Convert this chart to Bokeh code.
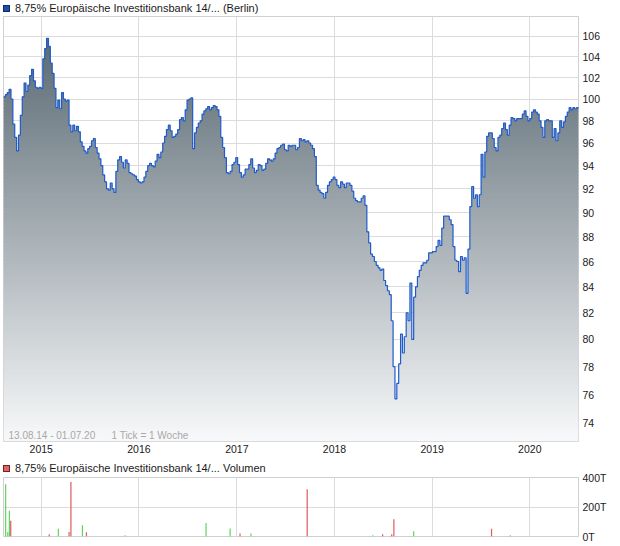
import numpy as np
import pandas as pd
from bokeh.plotting import figure
from bokeh.layouts import column
from bokeh.models import (Range1d, FixedTicker, PrintfTickFormatter, DatetimeTickFormatter,
                          Label, Div)
from bokeh.embed import file_html
from bokeh.resources import INLINE

# ---------------- data ----------------
title_main = "8,75% Europäische Investitionsbank 14/... (Berlin)"
title_vol = "8,75% Europäische Investitionsbank 14/... Volumen"
info_range = "13.08.14 - 01.07.20"
info_tick = "1 Tick = 1 Woche"

start_date = "2014-08-13"   # weekly closes, 1 tick = 1 week
price = [
    100.2, 100.4, 100.6, 100.9, 100.0, 97.7, 96.5, 95.3, 96.7, 98.5,
    100.2, 101.5, 100.7, 101.3, 102.2, 102.8, 101.7, 101.1, 101.0, 101.1,
    101.0, 103.8, 104.8, 105.8, 105.0, 103.4, 102.4, 101.0, 99.2, 99.9,
    99.1, 100.6, 100.0, 99.8, 99.9, 97.6, 97.0, 97.6, 97.1, 97.5,
    97.0, 96.1, 95.7, 95.3, 95.1, 95.5, 95.7, 96.2, 96.4, 95.6,
    95.1, 94.6, 94.0, 93.2, 92.6, 92.0, 91.9, 92.5, 92.0, 91.7,
    93.5, 94.5, 94.8, 94.3, 93.8, 94.5, 94.2, 93.4, 93.3, 93.2,
    93.1, 92.8, 92.6, 92.5, 92.6, 93.0, 93.5, 94.0, 94.2, 94.0,
    93.9, 94.4, 95.0, 94.7, 95.2, 96.0, 96.6, 97.2, 97.6, 97.1,
    96.5, 96.6, 96.8, 97.2, 98.1, 98.3, 98.0, 99.0, 99.9, 100.0,
    100.1, 95.5, 96.9, 97.4, 97.8, 98.0, 98.6, 98.9, 99.1, 99.3,
    99.0, 99.2, 99.4, 99.3, 99.0, 98.4, 96.5, 95.6, 94.7, 93.4,
    93.3, 93.5, 94.1, 94.3, 94.7, 94.1, 93.4, 93.0, 93.2, 93.7,
    93.7, 94.1, 94.6, 93.8, 93.4, 93.6, 94.1, 94.0, 93.6, 93.7,
    94.2, 94.6, 94.5, 94.4, 94.6, 95.1, 95.5, 95.6, 95.8, 95.9,
    95.4, 95.3, 95.8, 95.7, 95.8, 95.8, 95.4, 95.6, 96.4, 96.2,
    96.3, 96.1, 96.2, 96.0, 95.8, 95.5, 94.8, 92.3, 91.9, 91.7,
    91.6, 91.2, 91.7, 92.3, 92.6, 92.8, 93.0, 92.8, 92.3, 92.1,
    92.6, 92.4, 92.1, 92.5, 92.5, 92.3, 91.8, 91.2, 91.0, 90.9,
    90.9, 91.2, 91.4, 90.6, 88.4, 87.5, 86.6, 86.4, 86.0, 85.7,
    85.5, 85.3, 85.4, 84.5, 84.1, 83.7, 83.4, 81.4, 78.0, 75.7,
    76.8, 78.2, 80.4, 79.0, 80.2, 82.0, 81.4, 84.3, 80.0, 83.2,
    84.0, 84.8, 85.3, 85.7, 85.9, 85.9, 86.1, 86.7, 86.7, 86.8,
    86.8, 87.2, 87.7, 87.3, 88.7, 89.7, 89.7, 89.7, 89.4, 89.0,
    87.2, 86.1, 86.0, 85.2, 86.4, 86.1, 86.3, 83.5, 87.0, 90.5,
    92.2, 91.2, 91.5, 90.5, 91.5, 95.0, 93.0, 95.2, 96.6, 96.9,
    96.9, 96.4, 95.6, 95.3, 96.5, 96.7, 97.3, 97.8, 97.2, 96.7,
    97.6, 98.3, 98.2, 98.0, 98.2, 98.2, 98.2, 98.6, 98.9, 98.4,
    98.0, 98.2, 98.8, 99.0, 98.8, 98.6, 98.0, 97.4, 96.5, 98.0,
    98.1, 98.0, 98.0, 96.5, 97.3, 96.2, 96.9, 98.0, 97.4, 97.9,
    98.4, 98.8, 99.2, 99.0, 99.2, 99.1, 99.2, 99.1,
]

vol_dates = ["2014-08-21", "2014-08-29", "2014-09-04", "2014-09-09", "2015-01-31",
             "2015-03-06", "2015-04-15", "2015-04-22", "2015-06-04", "2015-06-19",
             "2015-11-10", "2016-09-08", "2016-12-07", "2017-01-13", "2017-02-23",
             "2017-09-21", "2018-05-24", "2018-06-30", "2018-08-03", "2018-08-11",
             "2018-10-24", "2019-08-11", "2019-10-20"]
vol_values = [355, 31, 174, 106, 16, 52, 31, 370, 77, 29, 9, 92, 54, 20, 20,
              321, 9, 16, 16, 117, 36, 52, 9]          # in thousands (T)
vol_dir = ["up", "up", "up", "down", "down", "up", "down", "down", "up", "down",
           "up", "up", "up", "down", "up", "down", "up", "down", "down", "down",
           "up", "down", "up"]

year_ticks = ["2015-01-01", "2016-01-01", "2017-01-01", "2018-01-01", "2019-01-01", "2020-01-01"]
price_ticks = [74, 76, 78, 80, 82, 84, 86, 88, 90, 92, 94, 96, 98, 100, 102, 104, 106]
vol_ticks = [0, 200, 400]

# ---------------- derived ----------------
dates = pd.date_range(start_date, periods=len(price), freq="7D")
pr = np.array(price, dtype=float)
year_ms = [pd.Timestamp(d).value / 1e6 for d in year_ticks]
x_start = dates[0]
x_end = dates[-1]

FONT = "Liberation Sans"
GRID = "#dcdcdc"
OUTLINE = "#d0d0d0"
LINE_BLUE = "#1f5bcc"
UP = "#5fd35f"
DOWN = "#e05a5a"

ymin, ymax = 72.77, 107.96


def title_div(text, fill, line, box_h, text_h):
    html = (
        '<div style="display:flex;align-items:center;height:%dpx;margin:0;padding:0;'
        "font-family:'Liberation Sans',Arial,sans-serif;font-size:11px;color:#1a1a1a;"
        'white-space:nowrap;">'
        '<span style="display:inline-block;box-sizing:border-box;width:7px;height:7px;'
        'background:%s;border:1px solid %s;margin-left:3px;margin-right:5px;"></span>'
        '%s</div>' % (text_h, fill, line, text)
    )
    return Div(text=html, width=618, height=box_h, margin=0)


p = figure(width=618, height=445, x_axis_type="datetime", y_axis_type="log",
           y_axis_location="right", output_backend="svg", toolbar_location=None,
           x_range=Range1d(x_start, x_end), y_range=Range1d(ymin, ymax),
           min_border_left=3, min_border_right=40, min_border_top=1, min_border_bottom=19)
p.background_fill_color = "white"
p.border_fill_color = "white"
p.outline_line_color = OUTLINE

# gradient area, drawn as stacked horizontal bands
N = 120
edges = np.exp(np.linspace(np.log(ymin), np.log(ymax), N + 1))
top_rgb = np.array([82, 98, 108])
bot_rgb = np.array([248, 249, 250])
for k in range(N):
    lo, hi = edges[k], edges[k + 1]
    if pr.max() <= lo:
        break
    t = (k + 0.5) / N
    c = bot_rgb + (top_rgb - bot_rgb) * t
    col = "#%02x%02x%02x" % tuple(int(round(v)) for v in c)
    y2 = np.clip(pr, lo, hi * 1.0015)
    y1 = np.full_like(pr, lo)
    p.varea_step(x=dates, y1=y1, y2=y2, step_mode="after", fill_color=col)

p.step(x=dates, y=pr, mode="after", line_color=LINE_BLUE, line_width=1.2)

p.xaxis.ticker = FixedTicker(ticks=year_ms)
p.xaxis.formatter = DatetimeTickFormatter(years="%Y", months="%Y", days="%Y", hours="%Y",
                                          minutes="%Y", seconds="%Y", milliseconds="%Y")
p.xgrid.ticker = FixedTicker(ticks=year_ms)
p.yaxis.ticker = FixedTicker(ticks=price_ticks)
p.yaxis.formatter = PrintfTickFormatter(format="%d")
p.ygrid.ticker = FixedTicker(ticks=price_ticks)
for g in (p.xgrid, p.ygrid):
    g.grid_line_color = GRID
    g.grid_line_width = 1
for ax in (p.xaxis, p.yaxis):
    ax.axis_line_color = None
    ax.major_tick_line_color = None
    ax.minor_tick_line_color = None
    ax.major_tick_out = 0
    ax.major_tick_in = 0
    ax.major_label_text_font = FONT
    ax.major_label_text_font_size = "10.5px"
    ax.major_label_text_color = "#1a1a1a"
p.xaxis.major_label_standoff = 3
p.yaxis.major_label_standoff = 4

# info text inside the frame
p.add_layout(Label(x=5, y=6, x_units="screen", y_units="screen", text=info_range,
                   text_font=FONT, text_font_size="10px", text_color="#a8a8a8",
                   text_baseline="middle", text_align="left"))
p.add_layout(Label(x=108, y=6, x_units="screen", y_units="screen", text=info_tick,
                   text_font=FONT, text_font_size="10px", text_color="#a8a8a8",
                   text_baseline="middle", text_align="left"))

# ---------------- volume ----------------
p2 = figure(width=618, height=75, x_axis_type="datetime", y_axis_location="right",
            output_backend="svg", toolbar_location=None,
            x_range=p.x_range, y_range=Range1d(0, 400),
            min_border_left=3, min_border_right=40, min_border_top=6, min_border_bottom=10)
p2.outline_line_color = OUTLINE
p2.border_fill_color = None
p2.background_fill_color = "white"
vd = pd.to_datetime(vol_dates)
vcol = [UP if d == "up" else DOWN for d in vol_dir]
p2.segment(x0=vd, y0=0, x1=vd, y1=vol_values, line_color=vcol, line_width=1.2)
p2.xaxis.visible = False
p2.xgrid.ticker = FixedTicker(ticks=year_ms)
p2.yaxis.ticker = FixedTicker(ticks=vol_ticks)
p2.yaxis.formatter = PrintfTickFormatter(format="%dT")
p2.ygrid.ticker = FixedTicker(ticks=vol_ticks)
for g in (p2.xgrid, p2.ygrid):
    g.grid_line_color = GRID
ax = p2.yaxis
ax.axis_line_color = None
ax.major_tick_line_color = None
ax.minor_tick_line_color = None
ax.major_tick_out = 0
ax.major_tick_in = 0
ax.major_label_text_font = FONT
ax.major_label_text_font_size = "10.5px"
ax.major_label_text_color = "#1a1a1a"
ax.major_label_standoff = 4

layout = column(
    title_div(title_main, "#1f4ea8", "#0d2a66", 15, 15),
    p,
    title_div(title_vol, "#e06666", "#7a1f1f", 11, 16),
    p2,
    spacing=0,
)

open("out.html", "w").write(file_html(layout, INLINE))
